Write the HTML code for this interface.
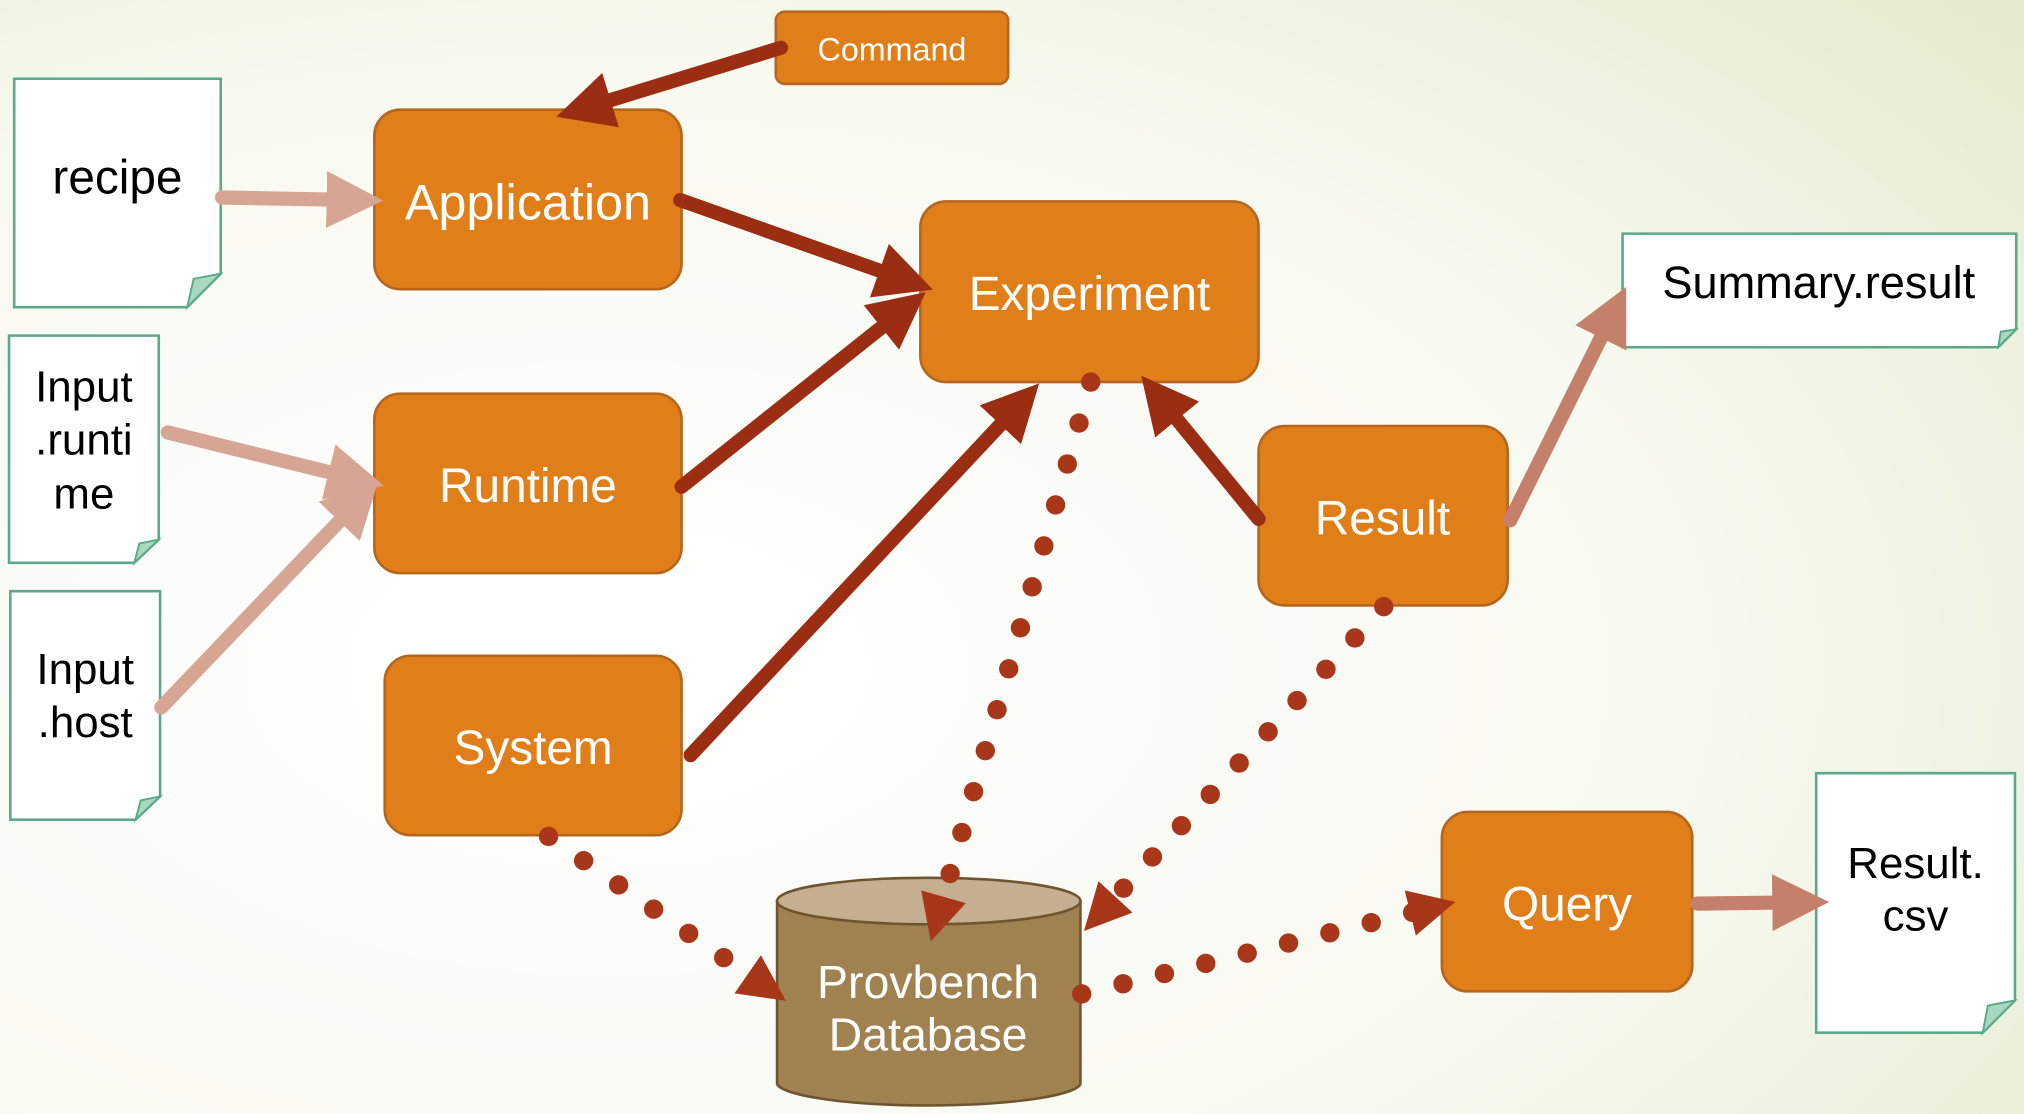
<!DOCTYPE html>
<html><head><meta charset="utf-8"><style>
html,body{margin:0;padding:0;width:2024px;height:1114px;overflow:hidden}
svg{display:block}
text{font-family:"Liberation Sans","DejaVu Sans",sans-serif}
</style></head><body>
<svg width="2024" height="1114" viewBox="0 0 1568 863" preserveAspectRatio="none" xmlns="http://www.w3.org/2000/svg">
<defs>
<radialGradient id="bg" cx="0.3" cy="0.6" r="0.9">
<stop offset="0" stop-color="#ffffff"/><stop offset="0.6" stop-color="#f8f9f0"/><stop offset="1" stop-color="#e4ebcf"/>
</radialGradient>
<marker id="ad" markerWidth="4" markerHeight="4" refX="2" refY="2" orient="auto" markerUnits="strokeWidth"><path d="M0,0 L4,2 L0,4z" fill="#9a2d12"/></marker>
<marker id="al" markerWidth="4" markerHeight="4" refX="2" refY="2" orient="auto" markerUnits="strokeWidth"><path d="M0,0 L4,2 L0,4z" fill="#d6a594"/></marker>
<marker id="am" markerWidth="4" markerHeight="4" refX="2" refY="2" orient="auto" markerUnits="strokeWidth"><path d="M0,0 L4,2 L0,4z" fill="#c4806a"/></marker>
<marker id="dm" markerWidth="36" markerHeight="36" refX="18" refY="18" orient="auto" markerUnits="userSpaceOnUse"><path d="M0,0 L36,18 L0,36z" fill="#a8371a"/></marker>
</defs>
<rect width="1568" height="863" fill="url(#bg)"/>
<g fill="#fff" stroke="#5aaa8a" stroke-width="2">
<path d="M11,61 H171 V212 L145,238 H11Z"/>
<path d="M7,260 H123 V418 L104,436 H7Z"/>
<path d="M8,458 H124 V617 L105,635 H8Z"/>
<path d="M1257,181 H1562 V255 L1548,269 H1257Z"/>
<path d="M1407,599 H1561 V775 L1536,800 H1407Z"/>
</g>
<g fill="#a8d8c0" stroke="#5aaa8a" stroke-width="1.5">
<path d="M171,212 L145,238 L150,216Z"/><path d="M123,418 L104,436 L108,421Z"/><path d="M124,617 L105,635 L109,620Z"/><path d="M1562,255 L1548,269 L1550,257Z"/><path d="M1561,775 L1536,800 L1540,779Z"/>
</g>
<g font-size="34" fill="#000" text-anchor="middle">
<text x="91" y="150" font-size="37">recipe</text>
<text x="65" y="311">Input</text><text x="65" y="352">.runti</text><text x="65" y="394">me</text>
<text x="66" y="530">Input</text><text x="66" y="571">.host</text>
<text x="1409" y="231" font-size="35">Summary.result</text>
<text x="1484" y="680">Result.</text><text x="1484" y="721">csv</text>
</g>
<g fill="#e07f1a" stroke="#b5651d" stroke-width="2">
<rect x="601" y="9" width="180" height="56" rx="7"/>
<rect x="290" y="85" width="238" height="139" rx="20"/>
<rect x="713" y="156" width="262" height="140" rx="20"/>
<rect x="290" y="305" width="238" height="139" rx="20"/>
<rect x="298" y="508" width="230" height="139" rx="20"/>
<rect x="975" y="330" width="193" height="139" rx="20"/>
<rect x="1117" y="629" width="194" height="139" rx="20"/>
</g>
<path d="M602,698 V840 A118,18 0 0 0 837,840 V698Z" fill="#a08150" stroke="#6e5530" stroke-width="2"/>
<ellipse cx="719.5" cy="698" rx="117.5" ry="18" fill="#c4b090" stroke="#6e5530" stroke-width="2"/>
<g fill="#fff" text-anchor="middle" font-size="37">
<text x="691" y="47" font-size="25">Command</text>
<text x="409" y="170" font-size="39">Application</text>
<text x="844" y="240">Experiment</text>
<text x="409" y="389">Runtime</text>
<text x="413" y="592">System</text>
<text x="1071" y="414">Result</text>
<text x="1214" y="713">Query</text>
<text x="719" y="773" font-size="36">Provbench</text>
<text x="719" y="814" font-size="36">Database</text>
</g>
<g stroke-linecap="round" fill="none">
<g stroke="#9a2d12" stroke-width="11" marker-end="url(#ad)">
<line x1="605" y1="37" x2="452" y2="84"/>
<line x1="527" y1="155" x2="702" y2="217"/>
<line x1="528" y1="377" x2="700" y2="240"/>
<line x1="535" y1="585" x2="790" y2="313"/>
<line x1="975" y1="402" x2="898" y2="308"/>
</g>
<g stroke="#d6a594" stroke-width="11" marker-end="url(#al)">
<line x1="172" y1="153" x2="275" y2="155"/>
<line x1="130" y1="335" x2="276" y2="371"/>
<line x1="125" y1="548" x2="278" y2="388"/>
</g>
<g stroke="#c4806a" stroke-width="11" marker-end="url(#am)">
<line x1="1170" y1="403" x2="1250" y2="242"/>
<line x1="1315" y1="700" x2="1395" y2="699"/>
</g>
<g stroke="#a8371a" stroke-width="15" stroke-dasharray="0 33" marker-end="url(#dm)">
<line x1="845" y1="296" x2="726" y2="712"/>
<line x1="1072" y1="470" x2="852" y2="708"/>
<line x1="425" y1="648" x2="594" y2="765"/>
<line x1="838" y1="770" x2="1110" y2="703"/>
</g>
</g>
</svg>
</body></html>
